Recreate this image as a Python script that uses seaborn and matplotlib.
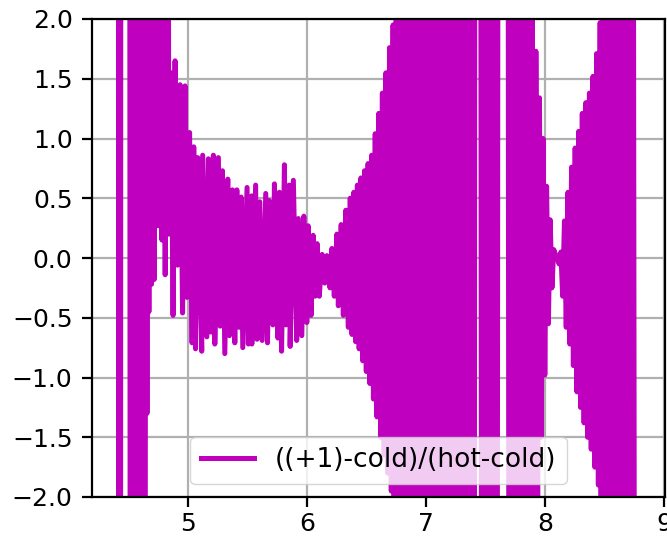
import numpy as np
import pandas as pd
import seaborn as sns
import matplotlib
matplotlib.use("Agg")
import matplotlib.pyplot as plt

# turning points; 10 / -10 means the trace runs off the axes
peak_x = [4.410, 4.422, 4.434,
          4.504, 4.524, 4.544, 4.564, 4.584, 4.604, 4.624, 4.644, 4.660, 4.678,
          4.700, 4.726, 4.762, 4.792, 4.820,
          4.853, 4.888, 4.930, 4.972, 5.010, 5.045, 5.078,
          5.120, 5.168, 5.210, 5.252, 5.286, 5.331, 5.370, 5.407, 5.443, 5.493,
          5.532, 5.565, 5.600, 5.650, 5.680, 5.723, 5.765, 5.807, 5.847, 5.882,
          5.924, 5.970, 6.006, 6.048, 6.082, 6.124, 6.164, 6.206, 6.248, 6.284, 6.323,
          6.360, 6.390, 6.420, 6.450, 6.480, 6.510, 6.540, 6.570, 6.600, 6.630,
          6.660, 6.690, 6.720, 6.750, 6.790, 6.830, 6.870, 6.910, 6.950, 6.990,
          7.030, 7.070, 7.110, 7.150, 7.190, 7.230, 7.270, 7.310, 7.350, 7.390, 7.410,
          7.450, 7.490, 7.530, 7.570, 7.607,
          7.680, 7.720, 7.760, 7.800, 7.840, 7.870,
          7.890, 7.920, 7.950, 7.980, 8.010, 8.040,
          8.070, 8.100, 8.130, 8.160, 8.190, 8.220, 8.250, 8.280, 8.310, 8.340,
          8.370, 8.400, 8.430, 8.460, 8.490, 8.530, 8.570, 8.610, 8.650, 8.690, 8.730]
peak_y = [10, 10, 10,
          10, 10, 10, 10, 10, 10, 10, 10, 10, 10,
          10, 10, 10, 10, 10,
          1.55, 1.65, 1.45, 1.44, 1.05, 0.93, 0.84,
          0.86, 0.83, 0.86, 0.84, 0.73, 0.66, 0.57, 0.57, 0.51, 0.59,
          0.52, 0.61, 0.47, 0.54, 0.48, 0.62, 0.55, 0.78, 0.61, 0.65,
          0.33, 0.35, 0.27, 0.19, 0.12, 0.03, 0.02, 0.08, 0.20, 0.28, 0.40,
          0.50, 0.55, 0.61, 0.67, 0.73, 0.79, 0.86, 1.04, 1.21, 1.38,
          1.55, 1.76, 1.95, 10, 10, 10, 10, 10, 10, 10,
          10, 10, 10, 10, 10, 10, 10, 10, 10, 10, 10,
          10, 10, 10, 10, 10,
          10, 10, 10, 10, 10, 10,
          2.3, 1.73, 1.34, 1.00, 0.60, 0.32,
          0.07, 0.00, 0.05, 0.31, 0.55, 0.76, 0.92, 1.06, 1.21, 1.30,
          1.38, 1.52, 1.71, 1.97, 10, 10, 10, 10, 10, 10, 10]

trough_x = [4.416, 4.428,
            4.514, 4.534, 4.554, 4.574, 4.594, 4.614, 4.634,
            4.652, 4.668, 4.690, 4.712, 4.745, 4.778, 4.805, 4.836, 4.871, 4.909,
            4.951, 4.989, 5.031, 5.060,
            5.112, 5.155, 5.190, 5.222, 5.267, 5.306, 5.345, 5.390, 5.426, 5.457,
            5.504, 5.533, 5.577, 5.620, 5.665, 5.710, 5.752, 5.783, 5.820, 5.855,
            5.910, 5.953, 5.995, 6.031, 6.065, 6.100, 6.146, 6.190, 6.226, 6.260,
            6.302, 6.344,
            6.375, 6.405, 6.435, 6.465, 6.495, 6.525, 6.555, 6.585, 6.615, 6.645,
            6.675, 6.705, 6.735, 6.770, 6.810, 6.850, 6.890, 6.930, 6.970, 7.010,
            7.050, 7.090, 7.130, 7.170, 7.210, 7.250, 7.290, 7.330, 7.370, 7.400,
            7.470, 7.510, 7.550, 7.590,
            7.700, 7.740, 7.780, 7.820, 7.855, 7.880,
            7.905, 7.935, 7.965, 7.995, 8.025, 8.055,
            8.085, 8.115, 8.145, 8.175, 8.205, 8.235, 8.265, 8.295, 8.325, 8.355,
            8.385, 8.415, 8.445, 8.475, 8.510, 8.550, 8.590, 8.630, 8.670, 8.710, 8.757]
trough_y = [-10, -10,
            -10, -10, -10, -10, -10, -10, -10,
            -1.3, -0.45, -0.22, -0.18, 0.27, 0.15, -0.14, 0.20, -0.48, -0.06,
            -0.46, -0.33, -0.71, -0.76,
            -0.78, -0.66, -0.62, -0.72, -0.57, -0.80, -0.65, -0.71, -0.58, -0.75,
            -0.72, -0.72, -0.68, -0.69, -0.71, -0.56, -0.67, -0.78, -0.56, -0.74,
            -0.69, -0.65, -0.54, -0.48, -0.32, -0.32, -0.21, -0.25, -0.32, -0.40,
            -0.48, -0.58,
            -0.64, -0.70, -0.76, -0.86, -0.95, -1.05, -1.18, -1.33, -1.50, -1.65,
            -1.80, -1.95, -10, -10, -10, -10, -10, -10, -10, -10,
            -10, -10, -10, -10, -10, -10, -10, -10, -10, -10,
            -10, -10, -10, -10,
            -10, -10, -10, -10, -10, -10,
            -10, -2.05, -1.50, -0.98, -0.55, -0.25,
            0.03, -0.05, -0.32, -0.58, -0.72, -0.90, -1.12, -1.25, -1.38, -1.50,
            -1.60, -1.75, -1.90, -10, -10, -10, -10, -10, -10, -10, -10]

series_label = "((+1)-cold)/(hot-cold)"
x_ticks = [5, 6, 7, 8, 9]
y_ticks = [-2.0, -1.5, -1.0, -0.5, 0.0, 0.5, 1.0, 1.5, 2.0]

df = pd.DataFrame({"x": peak_x + trough_x, "y": peak_y + trough_y})
df = df.sort_values("x").reset_index(drop=True)

fig = plt.figure(figsize=(6.67, 5.4), dpi=100)
ax = fig.add_axes([92 / 667, 43 / 540, 573 / 667, 478 / 540])

sns.lineplot(data=df, x="x", y="y", color="m", linewidth=3.6,
             estimator=None, sort=False, label=series_label, ax=ax)

ax.set_xlim(4.19, 9.005)
ax.set_ylim(-2, 2)
ax.set_xticks(x_ticks)
ax.set_yticks(y_ticks)
ax.set_xlabel("")
ax.set_ylabel("")
ax.grid(True, color="#b0b0b0", linewidth=1.6)
ax.tick_params(labelsize=18, length=7, width=1.6)
ax.tick_params(axis="x", pad=4)
ax.tick_params(axis="y", pad=7)
for sp in ax.spines.values():
    sp.set_linewidth(1.6)
ax.legend(loc="lower center", fontsize=19)

fig.savefig("out.png", dpi=100)
